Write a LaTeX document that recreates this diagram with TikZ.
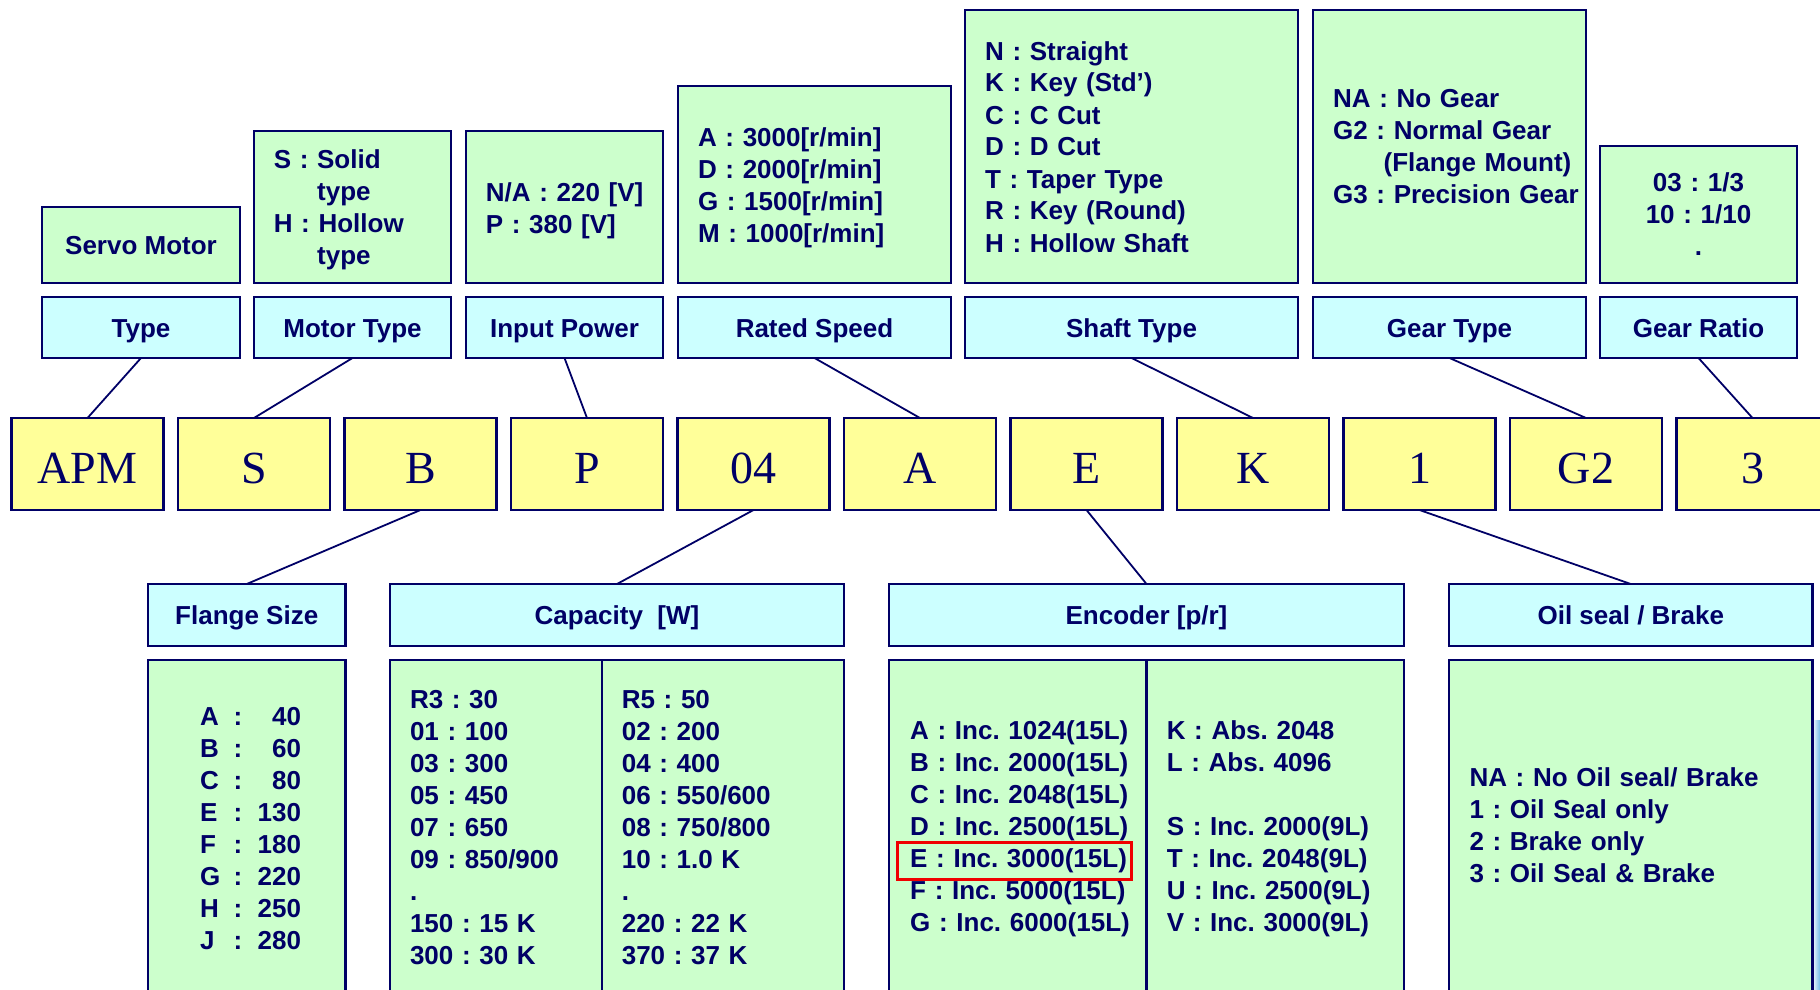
\documentclass[tikz,border=0pt]{standalone}
\usepackage{fontspec}
\setmainfont{Liberation Sans}
\newfontfamily\serifcode{Liberation Serif}
\definecolor{navy}{RGB}{0,0,102}
\definecolor{lgreen}{RGB}{204,255,204}
\definecolor{lcyan}{RGB}{204,255,255}
\definecolor{lyellow}{RGB}{255,255,153}
\definecolor{selred}{RGB}{240,0,0}
\definecolor{edgeblue}{RGB}{110,185,230}
\begin{document}
\frenchspacing
\begin{tikzpicture}[x=1pt,y=-1pt,
  framebox/.style={draw=navy, line width=2.5pt, inner sep=0pt, outer sep=0pt},
  gbox/.style={framebox, fill=lgreen},
  hdr/.style={framebox, fill=lcyan, text=navy, font=\frenchspacing\bfseries\fontsize{26}{32}\selectfont, text height=19pt, text depth=0pt},
  ybx/.style={framebox, fill=lyellow, minimum width=152pt, minimum height=92pt, text=navy, font=\serifcode\fontsize{46}{50}\selectfont, text height=38pt, text depth=0pt},
  txt/.style={anchor=base west, inner sep=0pt, text width=420pt, align=left, text=navy, font=\frenchspacing\bfseries\fontsize{26}{32}\selectfont},
  ctxt/.style={anchor=base, inner sep=0pt, text width=190pt, align=center, text=navy, font=\frenchspacing\bfseries\fontsize{26}{32}\selectfont},
  conn/.style={draw=navy, line width=1.8pt},
]
\useasboundingbox (0,0) rectangle (1820,990);
\clip (0,0) rectangle (1820,990);
\fill[white] (0,0) rectangle (1820,990);
\shade[left color=white, right color=edgeblue] (1812,720) rectangle (1820,990);

% ---------- top option boxes ----------
\node[gbox, minimum width=198pt, minimum height=76pt, text=navy, font=\bfseries\fontsize{26}{32}\selectfont, text height=19pt, text depth=0pt] (servo) at (141,245) {Servo Motor};
\node[gbox, minimum width=197pt, minimum height=152pt] (motorbox) at (352.5,207) {};
\node[gbox, minimum width=197pt, minimum height=152pt] (inputbox) at (564.5,207) {};
\node[gbox, minimum width=273pt, minimum height=197pt] (speedbox) at (814.5,184.5) {};
\node[gbox, minimum width=333pt, minimum height=273pt] (shaftbox) at (1131.5,146.5) {};
\node[gbox, minimum width=273pt, minimum height=273pt] (gearbox) at (1449.5,146.5) {};
\node[gbox, minimum width=197pt, minimum height=137pt] (ratiobox) at (1698.5,214.5) {};

\node[txt] (motortxt) at (273.6,168) {S : Solid\\\hspace*{43.4pt}type\\H : Hollow\\\hspace*{43.4pt}type};
\node[txt] (inputtxt) at (485.7,201.7) {N/A : 220 [V]\\P : 380 [V]};
\node[txt] (speedtxt) at (697.8,146.7) {A : 3000[r/min]\\D : 2000[r/min]\\G : 1500[r/min]\\M : 1000[r/min]};
\node[txt] (shafttxt) at (984.9,60) {N : Straight\\K : Key (Std’)\\C : C Cut\\D : D Cut\\T : Taper Type\\R : Key (Round)\\H : Hollow Shaft};
\node[txt] (geartxt) at (1332.9,107.3) {NA : No Gear\\G2 : Normal Gear\\\hspace*{50.5pt}(Flange Mount)\\G3 : Precision Gear};
\node[ctxt] (ratiotxt) at (1698.5,191.7) {03 : 1/3\\10 : 1/10\\.};

% ---------- top headers ----------
\node[hdr, minimum width=198pt, minimum height=61pt] (type) at (141,327.5) {Type};
\node[hdr, minimum width=197pt, minimum height=61pt] (motortype) at (352.5,327.5) {Motor Type};
\node[hdr, minimum width=197pt, minimum height=61pt] (inputpower) at (564.5,327.5) {Input Power};
\node[hdr, minimum width=273pt, minimum height=61pt] (ratedspeed) at (814.5,327.5) {Rated Speed};
\node[hdr, minimum width=333pt, minimum height=61pt] (shafttype) at (1131.5,327.5) {Shaft Type};
\node[hdr, minimum width=273pt, minimum height=61pt] (geartype) at (1449.5,327.5) {Gear Type};
\node[hdr, minimum width=197pt, minimum height=61pt] (gearratio) at (1698.5,327.5) {Gear Ratio};

% ---------- code boxes ----------
\node[ybx] (c1) at (87.5,464) {APM};
\node[ybx] (c2) at (254,464) {S};
\node[ybx] (c3) at (420.5,464) {B};
\node[ybx] (c4) at (587,464) {P};
\node[ybx] (c5) at (753.5,464) {04};
\node[ybx] (c6) at (920,464) {A};
\node[ybx] (c7) at (1086.5,464) {E};
\node[ybx] (c8) at (1253,464) {K};
\node[ybx] (c9) at (1419.5,464) {1};
\node[ybx] (c10) at (1586,464) {G2};
\node[ybx] (c11) at (1752.5,464) {3};

% ---------- bottom headers ----------
\node[hdr, minimum width=197.5pt, minimum height=62pt] (flange) at (246.75,615) {Flange Size};
\node[hdr, minimum width=454pt, minimum height=62pt] (capacity) at (617,615) {Capacity\ \ [W]};
\node[hdr, minimum width=515pt, minimum height=62pt] (encoder) at (1146.5,615) {Encoder [p/r]};
\node[hdr, minimum width=363.5pt, minimum height=62pt] (oilseal) at (1630.75,615) {Oil seal / Brake};

% ---------- bottom option boxes ----------
\node[gbox, minimum width=197.5pt, minimum height=360pt, anchor=north] (flbox) at (246.75,660) {};
\node[gbox, minimum width=454pt, minimum height=360pt, anchor=north] (capbox) at (617,660) {};
\node[gbox, minimum width=515pt, minimum height=360pt, anchor=north] (encbox) at (1146.5,660) {};
\node[gbox, minimum width=363.5pt, minimum height=360pt, anchor=north] (oilbox) at (1630.75,660) {};
\draw[navy, line width=2.5pt] (602,660) -- (602,1020);
\draw[navy, line width=2.5pt] (encbox.north) -- (encbox.south);

\node[txt] (fltxt) at (199.8,725) {%
\makebox[30pt][l]{A}\makebox[16pt][c]{:}\makebox[55pt][r]{40}\\
\makebox[30pt][l]{B}\makebox[16pt][c]{:}\makebox[55pt][r]{60}\\
\makebox[30pt][l]{C}\makebox[16pt][c]{:}\makebox[55pt][r]{80}\\
\makebox[30pt][l]{E}\makebox[16pt][c]{:}\makebox[55pt][r]{130}\\
\makebox[30pt][l]{F}\makebox[16pt][c]{:}\makebox[55pt][r]{180}\\
\makebox[30pt][l]{G}\makebox[16pt][c]{:}\makebox[55pt][r]{220}\\
\makebox[30pt][l]{H}\makebox[16pt][c]{:}\makebox[55pt][r]{250}\\
\makebox[30pt][l]{J}\makebox[16pt][c]{:}\makebox[55pt][r]{280}};
\node[txt] (capl) at (409.8,708.3) {R3 : 30\\01 : 100\\03 : 300\\05 : 450\\07 : 650\\09 : 850/900\\.\\150 : 15 K\\300 : 30 K};
\node[txt] (capr) at (621.6,708.3) {R5 : 50\\02 : 200\\04 : 400\\06 : 550/600\\08 : 750/800\\10 : 1.0 K\\.\\220 : 22 K\\370 : 37 K};
\node[txt] (encl) at (910,739.3) {A : Inc. 1024(15L)\\B : Inc. 2000(15L)\\C : Inc. 2048(15L)\\D : Inc. 2500(15L)\\E : Inc. 3000(15L)\\F : Inc. 5000(15L)\\G : Inc. 6000(15L)};
\node[txt] (encr) at (1166.6,739.3) {K : Abs. 2048\\L : Abs. 4096\\[32pt]S : Inc. 2000(9L)\\T : Inc. 2048(9L)\\U : Inc. 2500(9L)\\V : Inc. 3000(9L)};
\node[txt] (oiltxt) at (1469.3,786.7) {NA : No Oil seal/ Brake\\1 : Oil Seal only\\2 : Brake only\\3 : Oil Seal \& Brake};

\node[draw=selred, line width=2.5pt, inner sep=0pt, minimum width=234pt, minimum height=36.6pt] (sel) at (1014.5,861) {};

% ---------- connectors ----------
\draw[conn] (type.south) -- (c1.north);
\draw[conn] (motortype.south) -- (c2.north);
\draw[conn] (inputpower.south) -- (c4.north);
\draw[conn] (ratedspeed.south) -- (c6.north);
\draw[conn] (shafttype.south) -- (c8.north);
\draw[conn] (geartype.south) -- (c10.north);
\draw[conn] (gearratio.south) -- (c11.north);
\draw[conn] (c3.south) -- (flange.north);
\draw[conn] (c5.south) -- (capacity.north);
\draw[conn] (c7.south) -- (encoder.north);
\draw[conn] (c9.south) -- (oilseal.north);
\end{tikzpicture}
\end{document}
